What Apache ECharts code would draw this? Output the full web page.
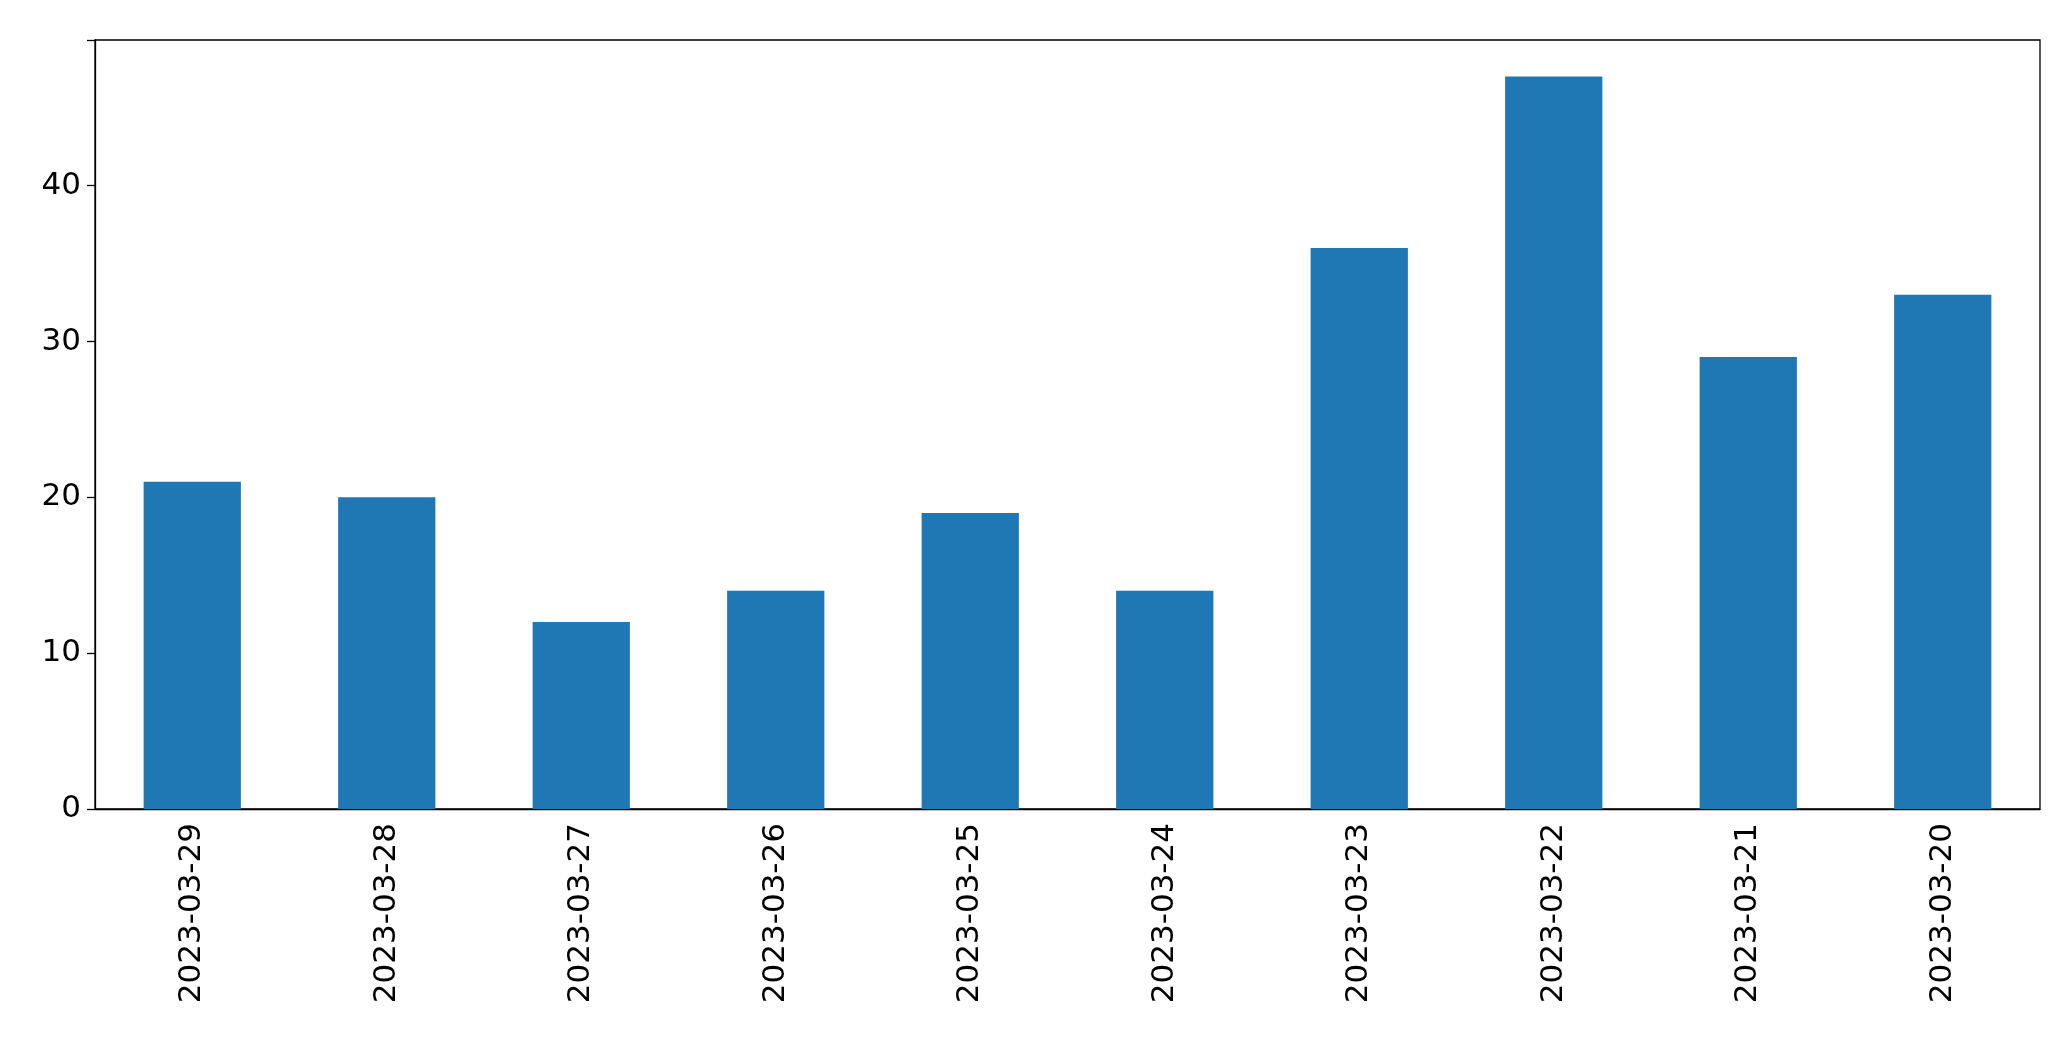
<!DOCTYPE html>
<html>
<head>
<meta charset="utf-8">
<script src="https://cdn.jsdelivr.net/npm/echarts@6/dist/echarts.min.js"></script>
<style>html,body{margin:0;padding:0;background:#fff}#main{width:2071px;height:1061px}</style>
</head>
<body>
<div id="main"></div>
<script>
var dates = ['2023-03-29', '2023-03-28', '2023-03-27', '2023-03-26', '2023-03-25', '2023-03-24', '2023-03-23', '2023-03-22', '2023-03-21', '2023-03-20'];
var counts = [21, 20, 12, 14, 19, 14, 36, 47, 29, 33];
var yTicks = [0, 10, 20, 30, 40];

var chart = echarts.init(document.getElementById('main'));
var font = 'DejaVu Sans';
chart.setOption({
    animation: false,
    grid: { left: 95, right: 31, top: 40, bottom: 252 },
    xAxis: {
        type: 'category',
        data: dates,
        axisLine: { lineStyle: { color: '#000', width: 1.3 } },
        axisTick: { alignWithLabel: true, length: 8, lineStyle: { color: '#000', width: 1.3 } },
        axisLabel: { rotate: 90, color: '#000', fontSize: 31, fontFamily: font, margin: 14 }
    },
    yAxis: {
        type: 'value',
        min: 0,
        max: 49.35,
        interval: 10,
        splitLine: { show: false },
        axisLine: { show: true, lineStyle: { color: '#000', width: 1.3 } },
        axisTick: { show: true, length: 8, lineStyle: { color: '#000', width: 1.3 } },
        axisLabel: {
            color: '#000', fontSize: 31, fontFamily: font, margin: 14,
            formatter: function (v) { return yTicks.indexOf(v) >= 0 ? v : ''; }
        }
    },
    series: [{
        type: 'bar',
        data: counts,
        barWidth: '50%',
        itemStyle: { color: '#1f77b4' }
    }],
    graphic: [{
        type: 'rect',
        shape: { x: 95, y: 40, width: 2071 - 95 - 31, height: 1061 - 40 - 252 },
        style: { fill: 'none', stroke: '#000', lineWidth: 1.3 },
        silent: true
    }]
});
</script>
</body>
</html>
